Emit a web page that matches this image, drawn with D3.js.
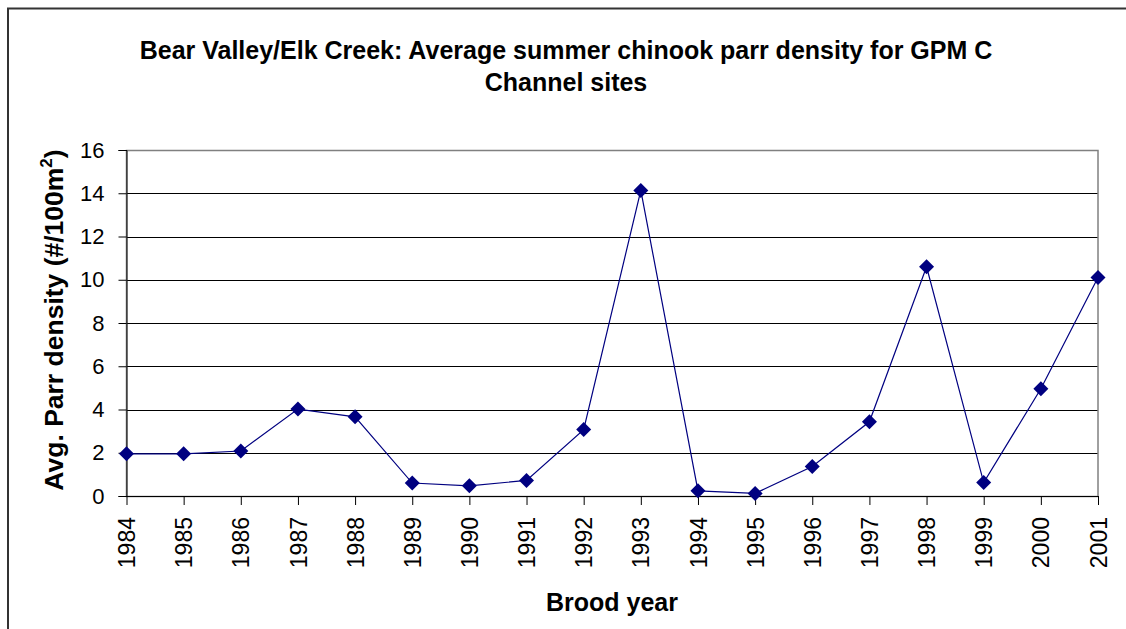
<!DOCTYPE html>
<html>
<head>
<meta charset="utf-8">
<script src="https://cdn.jsdelivr.net/npm/d3@7/dist/d3.min.js"></script>
<style>
  html, body { margin: 0; padding: 0; background: #fff; }
  svg { display: block; }
  text { font-family: "Liberation Sans", Arial, sans-serif; fill: #000; }
</style>
</head>
<body>
<svg id="chart" width="1126" height="629"></svg>
<script>
const years = ["1984","1985","1986","1987","1988","1989","1990","1991","1992","1993","1994","1995","1996","1997","1998","1999","2000","2001"];
const density = [1.95, 1.95, 2.08, 4.02, 3.66, 0.6, 0.47, 0.72, 3.07, 14.13, 0.24, 0.12, 1.36, 3.43, 10.6, 0.62, 4.96, 10.1];
const yTicks = [0, 2, 4, 6, 8, 10, 12, 14, 16];
const titleLines = ["Bear Valley/Elk Creek: Average summer chinook parr density for GPM C", "Channel sites"];
const xTitle = "Brood year";

const svg = d3.select("#chart");
const m = { left: 126.5, right: 1098, top: 150, bottom: 496 };

// outer frame
svg.append("rect").attr("x", 8).attr("y", 8.5).attr("width", 1200).attr("height", 700)
  .attr("fill", "none").attr("stroke", "#333").attr("stroke-width", 2);

const x = d3.scalePoint().domain(years).range([m.left, m.right]);
const y = d3.scaleLinear().domain([0, 16]).range([m.bottom, m.top]);

// gridlines
svg.append("g").selectAll("line").data(yTicks.filter(d => d > 0)).join("line")
  .attr("x1", m.left).attr("x2", m.right)
  .attr("y1", d => Math.round(y(d)) + 0.5).attr("y2", d => Math.round(y(d)) + 0.5)
  .attr("stroke", "#000").attr("stroke-width", 1);

// plot area border (gray)
svg.append("rect").attr("x", m.left).attr("y", m.top + 0.5)
  .attr("width", m.right - m.left).attr("height", m.bottom - m.top)
  .attr("fill", "none").attr("stroke", "#808080").attr("stroke-width", 1.5);

// y axis
const yAxis = svg.append("g").attr("transform", `translate(${m.left},0)`)
  .call(d3.axisLeft(y).tickValues(yTicks).tickSize(8).tickPadding(14).tickFormat(d3.format("d")));
yAxis.selectAll("text").attr("font-size", 22).style("font-family", "'Liberation Sans', Arial, sans-serif");
yAxis.selectAll("line,path").attr("stroke", "#000");

// x axis
const xAxis = svg.append("g").attr("transform", `translate(0,${m.bottom})`)
  .call(d3.axisBottom(x).tickSize(9).tickPadding(0).tickSizeOuter(0));
xAxis.select(".domain").attr("d", `M${m.left},0.5H${m.right}`).attr("stroke", "#000");
xAxis.selectAll("line").attr("stroke", "#000");
xAxis.selectAll("text")
  .attr("font-size", 23)
  .style("font-family", "'Liberation Sans', Arial, sans-serif")
  .attr("text-anchor", "end")
  .attr("transform", "translate(0,21) rotate(-90)")
  .attr("x", 0).attr("y", 0).attr("dy", "0.35em");

// line
svg.append("path").datum(density)
  .attr("fill", "none").attr("stroke", "#000080").attr("stroke-width", 1.2)
  .attr("d", d3.line().x((d, i) => x(years[i])).y(d => y(d)));

// markers
svg.append("g").selectAll("path").data(density).join("path")
  .attr("transform", (d, i) => `translate(${x(years[i])},${y(d)})`)
  .attr("d", "M0,-7.5L7.5,0L0,7.5L-7.5,0Z")
  .attr("fill", "#000080");

// title
svg.append("g").selectAll("text").data(titleLines).join("text")
  .attr("x", 566).attr("y", (d, i) => 59 + i * 32)
  .attr("text-anchor", "middle").attr("font-weight", "bold").attr("font-size", 25)
  .text(d => d);

// x title
svg.append("text").attr("x", 612).attr("y", 611).attr("text-anchor", "middle")
  .attr("font-weight", "bold").attr("font-size", 25).text(xTitle);

// y title
const yt = svg.append("text").attr("transform", `translate(63,320) rotate(-90)`)
  .attr("text-anchor", "middle").attr("font-weight", "bold").attr("font-size", 26.5);
yt.append("tspan").text("Avg. Parr density (#/100m");
yt.append("tspan").attr("font-size", 17).attr("dy", -11).text("2");
yt.append("tspan").attr("dy", 11).text(")");
</script>
</body>
</html>
